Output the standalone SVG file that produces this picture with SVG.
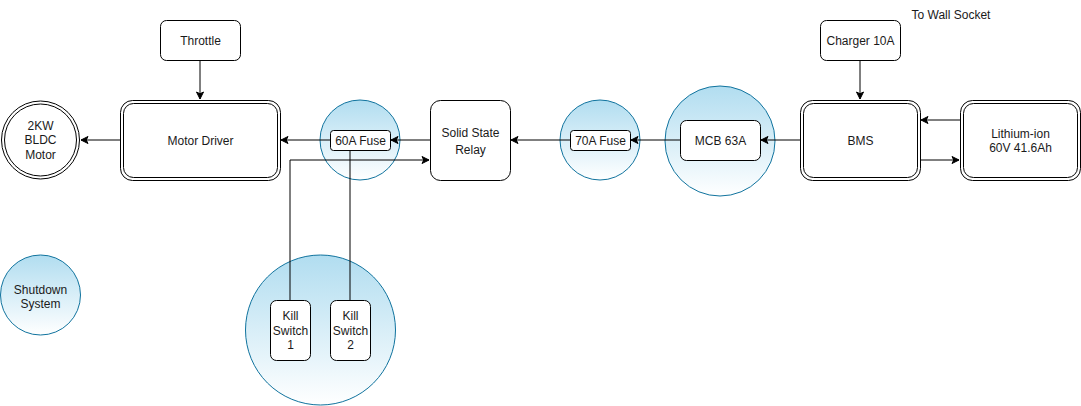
<svg xmlns="http://www.w3.org/2000/svg" width="1081" height="406" viewBox="0 0 1081 406">
<defs>
<linearGradient id="blue" x1="0" y1="0" x2="0" y2="1">
<stop offset="0" stop-color="#b1ddf0"/>
<stop offset="1" stop-color="#ffffff"/>
</linearGradient>
<marker id="arr" markerWidth="10" markerHeight="10" viewBox="-8 -5 10 10" refX="0" refY="0" markerUnits="userSpaceOnUse" orient="auto">
<path d="M-7,-3.5 L0,0 L-7,3.5 L-5.25,0 Z" fill="#000" stroke="#000" stroke-width="1"/>
</marker>
<style>
.box{fill:#fff;stroke:#000;stroke-width:1}
.grp{fill:url(#blue);stroke:#10739e;stroke-width:1}
.t{font-family:"Liberation Sans",Arial,sans-serif;font-size:12px;fill:#1a1a1a;text-anchor:middle}
.e{fill:none;stroke:#000;stroke-width:1}
</style>
</defs>
<rect width="1081" height="406" fill="#fff"/>

<g id="grp-60a"><circle class="grp" cx="360" cy="140" r="40"/></g>
<g id="grp-70a"><circle class="grp" cx="600" cy="140" r="40"/></g>
<g id="grp-mcb"><circle class="grp" cx="720" cy="141" r="55"/></g>
<g id="grp-kill"><circle class="grp" cx="320.5" cy="330" r="75"/></g>

<g id="connectors">
<path class="e" d="M200,60 L200,99" marker-end="url(#arr)"/>
<path class="e" d="M860,60 L860,99" marker-end="url(#arr)"/>
<path class="e" d="M120,140 L81,140" marker-end="url(#arr)"/>
<path class="e" d="M330,140 L281,140" marker-end="url(#arr)"/>
<path class="e" d="M430,140 L391,140" marker-end="url(#arr)"/>
<path class="e" d="M570,140 L511,140" marker-end="url(#arr)"/>
<path class="e" d="M680,140 L631,140" marker-end="url(#arr)"/>
<path class="e" d="M800,140 L761,140" marker-end="url(#arr)"/>
<path class="e" d="M960,120 L921,120" marker-end="url(#arr)"/>
<path class="e" d="M920,160 L959,160" marker-end="url(#arr)"/>
<path class="e" d="M290,300 L290,160 L429,160" marker-end="url(#arr)"/>
<path class="e" d="M350,300 L350,150"/>
</g>

<g id="motor">
<circle class="box" cx="40.5" cy="140" r="39"/>
<circle class="box" cx="40.5" cy="140" r="36"/>
<text class="t" x="40.5" y="129.5">2KW</text>
<text class="t" x="40.5" y="144">BLDC</text>
<text class="t" x="40.5" y="158.5">Motor</text>
</g>

<g id="throttle">
<rect class="box" x="160.5" y="20.5" width="80" height="40" rx="6"/>
<text class="t" x="200.5" y="45">Throttle</text>
</g>

<g id="motor-driver">
<rect class="box" x="120.5" y="100.5" width="160" height="80" rx="12"/>
<rect class="box" x="123.5" y="103.5" width="154" height="74" rx="10"/>
<text class="t" x="200.5" y="145">Motor Driver</text>
</g>

<g id="fuse60">
<rect class="box" x="330.5" y="130.5" width="60" height="20" rx="3"/>
<text class="t" x="360.5" y="145">60A Fuse</text>
</g>

<g id="relay">
<rect class="box" x="430.5" y="100.5" width="80" height="80" rx="10"/>
<text class="t" x="470.5" y="137">Solid State</text>
<text class="t" x="470.5" y="153.5">Relay</text>
</g>

<g id="fuse70">
<rect class="box" x="570.5" y="130.5" width="60" height="20" rx="3"/>
<text class="t" x="600.5" y="145">70A Fuse</text>
</g>

<g id="mcb">
<rect class="box" x="680.5" y="120.5" width="80" height="40" rx="6"/>
<text class="t" x="720.5" y="145">MCB 63A</text>
</g>

<g id="bms">
<rect class="box" x="800.5" y="100.5" width="120" height="80" rx="12"/>
<rect class="box" x="803.5" y="103.5" width="114" height="74" rx="10"/>
<text class="t" x="860.5" y="145">BMS</text>
</g>

<g id="charger">
<rect class="box" x="820.5" y="20.5" width="80" height="40" rx="6"/>
<text class="t" x="860.5" y="45">Charger 10A</text>
</g>

<g id="wall"><text class="t" x="951" y="19">To Wall Socket</text></g>

<g id="battery">
<rect class="box" x="960.5" y="100.5" width="120" height="80" rx="12"/>
<rect class="box" x="963.5" y="103.5" width="114" height="74" rx="10"/>
<text class="t" x="1020.5" y="137.5">Lithium-ion</text>
<text class="t" x="1020.5" y="151.5">60V 41.6Ah</text>
</g>

<g id="shutdown">
<circle class="grp" cx="40.5" cy="295" r="40"/>
<text class="t" x="40.5" y="293.5">Shutdown</text>
<text class="t" x="40.5" y="307.5">System</text>
</g>

<g id="kill1">
<rect class="box" x="270.5" y="300.5" width="40" height="60" rx="6"/>
<text class="t" x="290.5" y="320">Kill</text>
<text class="t" x="290.5" y="334.5">Switch</text>
<text class="t" x="290.5" y="349">1</text>
</g>

<g id="kill2">
<rect class="box" x="330.5" y="300.5" width="40" height="60" rx="6"/>
<text class="t" x="350.5" y="320">Kill</text>
<text class="t" x="350.5" y="334.5">Switch</text>
<text class="t" x="350.5" y="349">2</text>
</g>
</svg>
